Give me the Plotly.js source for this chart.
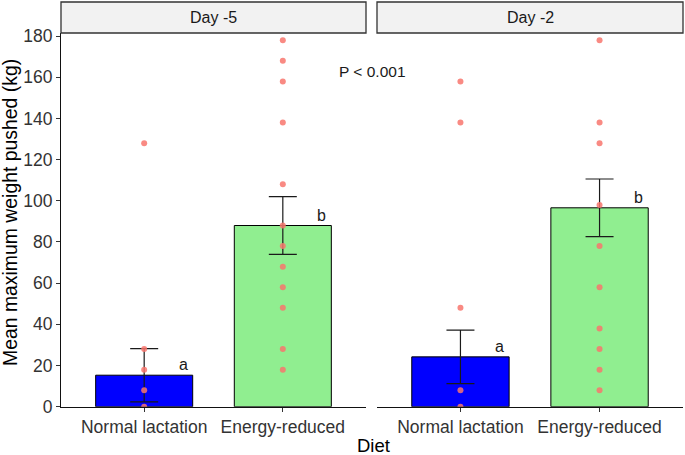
<!DOCTYPE html>
<html>
<head>
<meta charset="utf-8">
<script src="https://cdn.plot.ly/plotly-3.0.1.min.js"></script>
<style>html,body{margin:0;padding:0;background:#fff;}#chart{width:685px;height:455px;}</style>
</head>
<body>
<div id="chart"></div>
<script>
// ---- Data ----
const categories = ['Normal lactation', 'Energy-reduced'];
const panels = ['Day -5', 'Day -2'];
const meansDay5 = [15.3, 88.0];
const seDay5 = [12.95, 14.0];
const meansDay2 = [24.2, 96.6];
const seDay2 = [13.0, 14.0];
const pointsNormalDay5 = [128, 28, 18, 8, 0];
const pointsEnergyDay5 = [178, 168, 158, 138, 108, 88, 78, 68, 58, 48, 28, 18];
const pointsNormalDay2 = [158, 138, 48, 8, 0];
const pointsEnergyDay2 = [178, 138, 128, 98, 78, 58, 38, 28, 18, 8];
const lettersDay5 = ['a', 'b'];
const lettersDay2 = ['a', 'b'];
const yTickVals = [0, 20, 40, 60, 80, 100, 120, 140, 160, 180];
const pValueText = 'P < 0.001';
const xTitle = 'Diet';
const yTitle = 'Mean maximum weight pushed (kg)';

// ---- Styling ----
const FONT = 'Liberation Sans, Arial, Helvetica, sans-serif';
const barColors = ['#0000FF', '#90EE90'];
const pointColor = '#F8766D';
const W = 685, H = 455;
const px = v => v / W;
const py = v => (H - v) / H;

const panelData = [
  {means: meansDay5, se: seDay5, pts: [pointsNormalDay5, pointsEnergyDay5], letters: lettersDay5, xa: 'x', ya: 'y'},
  {means: meansDay2, se: seDay2, pts: [pointsNormalDay2, pointsEnergyDay2], letters: lettersDay2, xa: 'x2', ya: 'y2'}
];

const traces = [];
panelData.forEach(p => {
  traces.push({
    type: 'bar', x: categories, y: p.means, xaxis: p.xa, yaxis: p.ya,
    width: 0.7,
    marker: {color: barColors, line: {color: '#000', width: 1}},
    error_y: {type: 'data', array: p.se, visible: true, color: '#1a1a1a', thickness: 1.2, width: 14},
    showlegend: false, hoverinfo: 'skip'
  });
});
panelData.forEach(p => {
  p.pts.forEach((vals, i) => {
    traces.push({
      type: 'scatter', mode: 'markers', xaxis: p.xa, yaxis: p.ya,
      x: vals.map(() => categories[i]), y: vals,
      marker: {color: pointColor, size: 6, opacity: 0.85, line: {width: 0}},
      showlegend: false, hoverinfo: 'skip'
    });
  });
});

const yDomain = [py(406.7), py(33)];
const xDomain1 = [px(61), px(366)];
const xDomain2 = [px(377), px(683)];

const xaxisBase = {
  type: 'category', range: [-0.6, 1.6], showgrid: false, zeroline: false,
  showline: true, linecolor: '#111', linewidth: 1,
  ticks: 'outside', ticklen: 4, tickcolor: '#333', tickwidth: 1,
  tickfont: {family: FONT, size: 17.5, color: '#333'}, fixedrange: true
};

const annotations = [];
const shapes = [];
panelData.forEach((p, k) => {
  const xref = k === 0 ? 'x' : 'x2';
  const yref = k === 0 ? 'y' : 'y2';
  // strip
  shapes.push({type: 'rect', xref: xref + ' domain', yref: 'paper', x0: 0, x1: 1, y0: py(33), y1: py(2),
    fillcolor: '#F2F2F2', line: {color: '#333', width: 1.3}, layer: 'above'});
  annotations.push({xref: xref + ' domain', yref: 'paper', x: 0.5, y: py(17.5), text: panels[k],
    showarrow: false, xanchor: 'center', yanchor: 'middle', font: {family: FONT, size: 16, color: '#1a1a1a'}});
  // letters
  p.letters.forEach((t, i) => {
    annotations.push({xref: xref, yref: yref, x: i + 0.28, y: p.means[i], text: t, showarrow: false,
      xanchor: 'center', yanchor: 'bottom', yshift: 0, font: {family: FONT, size: 16, color: '#1a1a1a'}});
  });
});
annotations.push({xref: 'paper', yref: 'paper', x: px(372), y: py(71), text: pValueText, showarrow: false,
  xanchor: 'center', yanchor: 'middle', font: {family: FONT, size: 15.5, color: '#1a1a1a'}});
annotations.push({xref: 'paper', yref: 'paper', x: px(373), y: py(445), text: xTitle, showarrow: false,
  xanchor: 'center', yanchor: 'middle', borderpad: 0, font: {family: FONT, size: 18.5, color: '#000'}});
annotations.push({xref: 'paper', yref: 'paper', x: px(10), y: py(213), text: yTitle, showarrow: false, textangle: -90,
  xanchor: 'center', yanchor: 'middle', font: {family: FONT, size: 19.4, color: '#000'}});

const layout = {
  width: W, height: H,
  margin: {l: 0, r: 0, t: 0, b: 0, autoexpand: false},
  paper_bgcolor: '#fff', plot_bgcolor: '#fff',
  showlegend: false,
  xaxis: Object.assign({}, xaxisBase, {domain: xDomain1, anchor: 'y'}),
  xaxis2: Object.assign({}, xaxisBase, {domain: xDomain2, anchor: 'y2'}),
  yaxis: {domain: yDomain, range: [0, 181.5], tickvals: yTickVals, showgrid: false, zeroline: false,
    showline: true, linecolor: '#111', linewidth: 1, ticks: 'outside', ticklen: 4, tickcolor: '#333',
    tickfont: {family: FONT, size: 17.5, color: '#333'}, anchor: 'x', fixedrange: true},
  yaxis2: {domain: yDomain, range: [0, 181.5], matches: 'y', showgrid: false, zeroline: false,
    showline: false, ticks: '', showticklabels: false, anchor: 'x2', fixedrange: true},
  shapes: shapes,
  annotations: annotations
};

Plotly.newPlot('chart', traces, layout, {staticPlot: true, displayModeBar: false});
</script>
</body>
</html>
